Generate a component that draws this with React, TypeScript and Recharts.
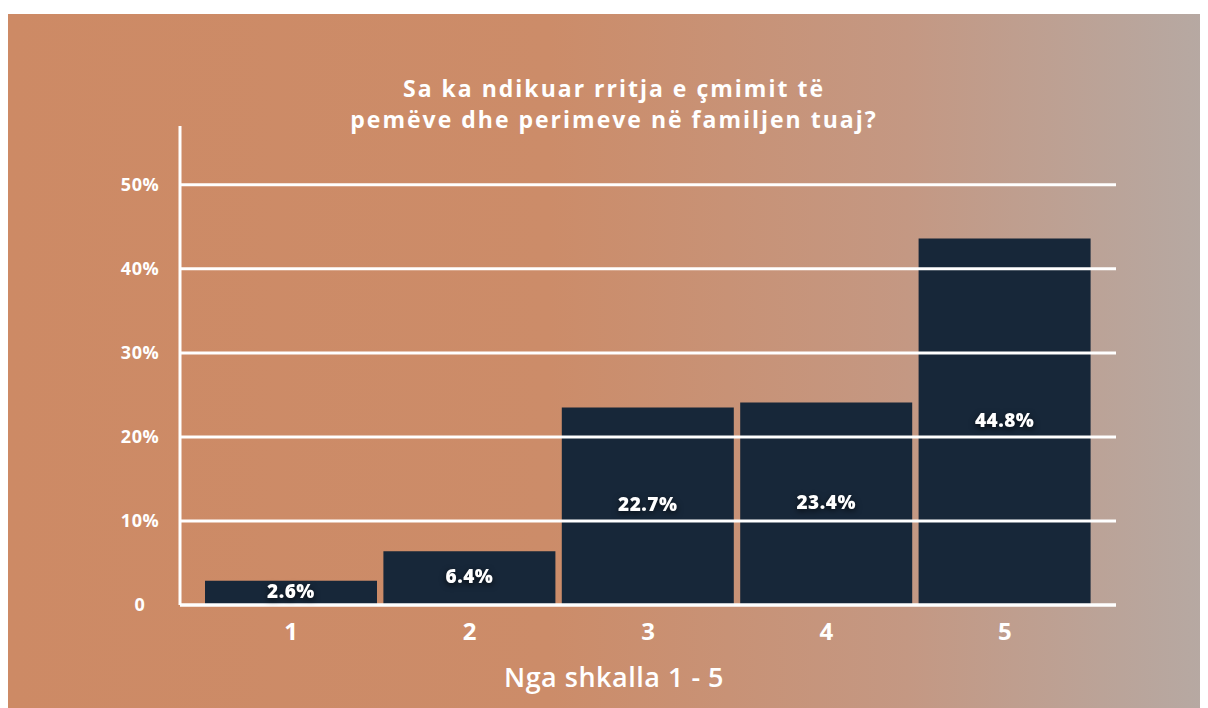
import { BarChart, Bar, XAxis, YAxis, ReferenceLine, LabelList } from 'recharts'

const categories = ['1', '2', '3', '4', '5']
// bar heights as drawn in the picture (percent)
const barValues = [2.9, 6.4, 23.5, 24.1, 43.6]
// printed labels on the bars
const barLabels = ['2.6%', '6.4%', '22.7%', '23.4%', '44.8%']
const yTicks = [0, 10, 20, 30, 40, 50]
const yTickLabels = ['0', '10%', '20%', '30%', '40%', '50%']
const titleLines = ['Sa ka ndikuar rritja e çmimit të', 'pemëve dhe perimeve në familjen tuaj?']

const chartData = categories.map((c, i) => ({ name: c, value: barValues[i], label: barLabels[i] }))

const FONT = '"Open Sans", "DejaVu Sans", sans-serif'

function YTick(props: any) {
  const { x, y, payload } = props
  const idx = yTicks.indexOf(payload.value)
  return (
    <text x={x - 32} y={y} dy={6} textAnchor="middle" fill="#fff" fontSize={18} fontWeight={700} fontFamily={FONT} letterSpacing={0.5}>
      {yTickLabels[idx]}
    </text>
  )
}

function XTick(props: any) {
  const { x, y, payload } = props
  return (
    <text x={x} y={y} dy={27} textAnchor="middle" fill="#fff" fontSize={24} fontWeight={700} fontFamily={FONT}>
      {payload.value}
    </text>
  )
}

function BarLabel(props: any) {
  const { x, y, width, height, index } = props
  return (
    <text
      x={x + width / 2}
      y={y + height / 2}
      dy={5}
      textAnchor="middle"
      fill="#fff"
      fontSize={19}
      fontWeight={800}
      fontFamily={FONT}
      letterSpacing={0.5}
      style={{ filter: 'drop-shadow(0px 2px 3px rgba(0,0,0,0.7))' }}
    >
      {barLabels[index]}
    </text>
  )
}

export default function App() {
  return (
    <div
      style={{
        position: 'relative',
        width: 1200,
        height: 694,
        marginTop: 6,
        background: 'linear-gradient(to right, #cd8a65 0%, #cc8c69 45%, #c49883 75%, #b6a9a3 100%)',
        fontFamily: FONT,
      }}
    >
      {titleLines.map((line, i) => (
        <div
          key={i}
          style={{
            position: 'absolute',
            top: 59 + i * 31,
            left: 0,
            width: 1212,
            height: 31,
            textAlign: 'center',
            color: '#fff',
            fontSize: 23,
            fontWeight: 700,
            letterSpacing: 2,
            lineHeight: '31px',
          }}
        >
          {line}
        </div>
      ))}
      <BarChart
        width={1200}
        height={694}
        data={chartData}
        margin={{ top: 112, right: 92, bottom: 43, left: 112 }}
      >
        <XAxis
          dataKey="name"
          padding={{ left: 22, right: 22 }}
          axisLine={{ stroke: '#fff', strokeWidth: 3 }}
          tickLine={false}
          tick={<XTick />}
          height={60}
        />
        <YAxis
          domain={[0, 57]}
          ticks={yTicks}
          width={60}
          axisLine={{ stroke: '#fff', strokeWidth: 3 }}
          tickLine={false}
          tick={<YTick />}
        />
        {yTicks.map((t) => (
          <ReferenceLine key={t} y={t} stroke="#fff" strokeWidth={3} />
        ))}
        <Bar dataKey="value" fill="#172739" barSize={172} isAnimationActive={false}>
          <LabelList dataKey="label" content={<BarLabel />} />
        </Bar>
      </BarChart>
      <div
        style={{
          position: 'absolute',
          top: 644,
          left: 0,
          width: 1212,
          textAlign: 'center',
          color: '#fff',
          fontSize: 27,
          fontWeight: 600,
          letterSpacing: 0.5,
        }}
      >
        Nga shkalla 1 - 5
      </div>
    </div>
  )
}
